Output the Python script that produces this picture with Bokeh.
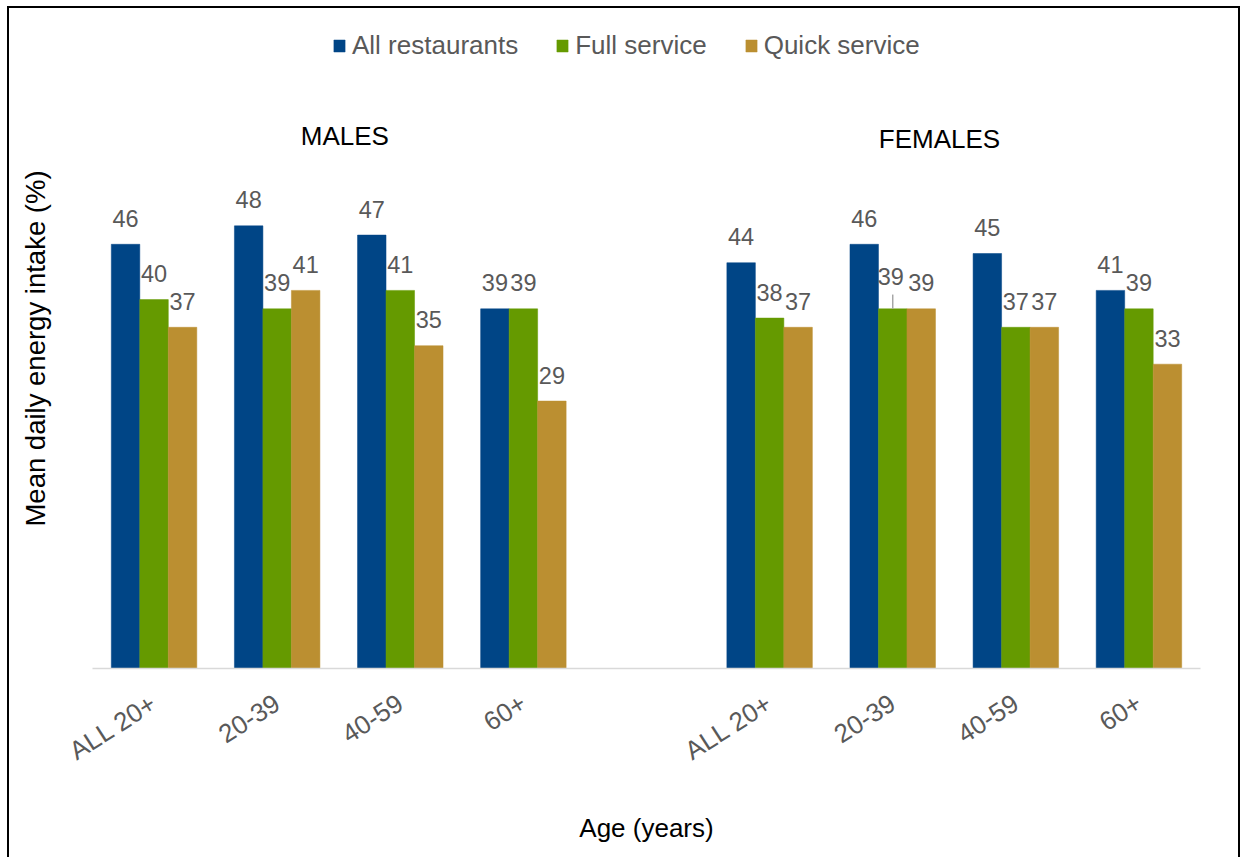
from bokeh.plotting import figure
from bokeh.models import FixedTicker, Legend, LegendItem, ColumnDataSource, Range1d
from bokeh.core.properties import value
from bokeh.embed import file_html
from bokeh.resources import INLINE

# Mean daily energy intake (%) by age group, sex and restaurant type
age_groups = ["ALL 20+", "20-39", "40-59", "60+"]
series_names = ["All restaurants", "Full service", "Quick service"]
males_all = [46, 48, 47, 39]
males_full = [40, 39, 41, 39]
males_quick = [37, 41, 35, 29]
females_all = [44, 46, 45, 41]
females_full = [38, 39, 37, 39]
females_quick = [37, 39, 37, 33]
panel_titles = ["MALES", "FEMALES"]
colors = ["#004586", "#659a00", "#bb8f31"]

FONT = "Liberation Sans"
GRAY = "#595959"
TXT = "26px"
VAL = "23.5px"

# x axis: nine slots, four male groups, an empty slot, four female groups
male_pos = [i + 0.5 for i in range(4)]
female_pos = [i + 5.5 for i in range(4)]
group_pos = male_pos + female_pos
bar_w = 0.2315
offsets = [-bar_w, 0.0, bar_w]

series_values = [
    males_all + females_all,
    males_full + females_full,
    males_quick + females_quick,
]

p = figure(
    frame_width=1108, frame_height=640,
    x_range=Range1d(0, 9), y_range=Range1d(0, 69.4),
    min_border_left=83, min_border_right=38,
    min_border_top=20, min_border_bottom=189,
    output_backend="svg", toolbar_location=None,
    styles={
        "margin-left": "7px", "margin-top": "6px",
        "border-top": "2px solid black",
        "border-left": "2px solid black",
        "border-right": "2px solid black",
    },
)
p.outline_line_color = None
p.xgrid.visible = False
p.ygrid.visible = False
p.background_fill_color = "white"
p.border_fill_color = "white"

legend_items = []
for k, (name, vals, col) in enumerate(zip(series_names, series_values, colors)):
    src = ColumnDataSource(dict(
        x=[g + offsets[k] for g in group_pos],
        top=vals,
    ))
    r = p.vbar(x="x", top="top", bottom=0, width=bar_w, source=src,
               fill_color=col, line_color=col, line_width=0.5)
    legend_items.append(LegendItem(label=name, renderers=[r]))

    # value labels above the bars; one label sits higher with a leader line
    normal = [i for i in range(len(vals)) if not (k == 1 and i == 5)]
    lsrc = ColumnDataSource(dict(
        x=[src.data["x"][i] for i in normal],
        y=[vals[i] for i in normal],
        t=[str(vals[i]) for i in normal],
    ))
    p.text(x="x", y="y", text="t", source=lsrc, text_align="center",
           text_baseline="alphabetic", y_offset=-26,
           text_font=value(FONT), text_font_size=VAL, text_color=GRAY)
    if k == 1:
        i = 5
        xs = src.data["x"][i]
        p.text(x=[xs], y=[vals[i]], text=[str(vals[i])], text_align="center",
               text_baseline="alphabetic", y_offset=-32, x_offset=-2,
               text_font=value(FONT), text_font_size=VAL, text_color=GRAY)
        p.segment(x0=[xs], y0=[vals[i]], x1=[xs], y1=[vals[i] + 1.55],
                  line_color="#a6a6a6", line_width=1.5)

# panel titles
p.text(x=[2.05, 6.88], y=[57.7, 57.4], text=panel_titles,
       text_align="center", text_baseline="middle",
       text_font=value(FONT), text_font_size=TXT, text_color="black")

# x axis
p.xaxis.ticker = FixedTicker(ticks=group_pos)
p.xaxis.major_label_overrides = {pos: lab for pos, lab in zip(group_pos, age_groups * 2)}
p.xaxis.major_label_orientation = 0.57
p.xaxis.major_label_standoff = 26
p.xaxis.major_label_text_font = FONT
p.xaxis.major_label_text_font_size = TXT
p.xaxis.major_label_text_color = GRAY
p.xaxis.major_tick_line_color = None
p.xaxis.minor_tick_line_color = None
p.xaxis.axis_line_color = "#d9d9d9"
p.xaxis.axis_line_width = 1.5
p.xaxis.axis_label = "Age (years)"
p.xaxis.axis_label_standoff = 32
p.xaxis.axis_label_text_font = FONT
p.xaxis.axis_label_text_font_size = TXT
p.xaxis.axis_label_text_font_style = "normal"
p.xaxis.axis_label_text_color = "black"

# y axis: only its title is shown
p.yaxis.ticker = FixedTicker(ticks=[])
p.yaxis.major_label_text_font_size = "0px"
p.yaxis.major_tick_line_color = None
p.yaxis.minor_tick_line_color = None
p.yaxis.axis_line_color = None
p.yaxis.major_label_standoff = 0
p.yaxis.axis_label = "Mean daily energy intake (%)"
p.yaxis.axis_label_standoff = 42
p.yaxis.axis_label_text_font = FONT
p.yaxis.axis_label_text_font_size = "27.5px"
p.yaxis.axis_label_text_font_style = "normal"
p.yaxis.axis_label_text_color = "black"

legend = Legend(items=legend_items, orientation="horizontal",
                location=(240, 607), spacing=37, padding=0, margin=0,
                glyph_width=14, glyph_height=15, label_standoff=6,
                label_text_font=FONT, label_text_font_size=TXT,
                label_text_color=GRAY, border_line_color=None,
                background_fill_alpha=0)
p.add_layout(legend)

open("out.html", "w").write(file_html(p, INLINE))
